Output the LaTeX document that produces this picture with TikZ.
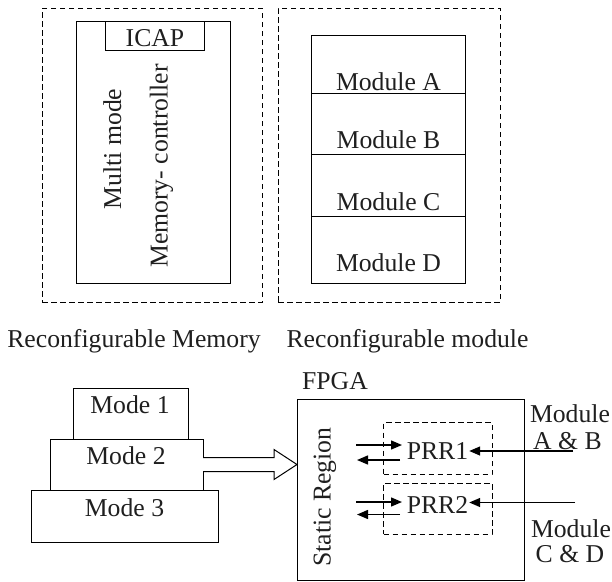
\documentclass[tikz,border=0pt]{standalone}
\usepackage{fontspec}
\setmainfont{Liberation Serif}
\usetikzlibrary{arrows.meta,calc,fit}
\begin{document}
\begin{tikzpicture}[x=1pt,y=-1pt,
  every node/.style={inner sep=0pt, outer sep=0pt},
  box/.style={draw, line width=1pt, inner sep=0pt},
  dbox/.style={draw, line width=1pt, inner sep=0pt, dash pattern=on 5.5pt off 3.5pt},
  txt/.style={font=\fontsize{25.7}{30}\selectfont, anchor=base, text=black!88, inner sep=1pt},
  arr/.style={line width=1.4pt, -{Triangle[length=11pt,width=9pt]}},
  hollow/.style={line width=1pt, fill=white},
]
\useasboundingbox (0,0) rectangle (612,581);

% ---------- top: reconfigurable memory ----------
\node[dbox, fit={(42,8) (262,302)}] (memreg) {};
\node[box, fit={(76,21) (230.5,283)}] (ctrl) {};
\node[box, fit={(105,21) (204,50)}] (icap) {};
\node[txt] (icapt) at (155,46) {ICAP};
\node[txt, rotate=90] (multi) at (121,149) {Multi mode};
\node[txt, rotate=90] (memctl) at (167.5,166) {Memory- controller};

% ---------- top: reconfigurable module ----------
\node[dbox, fit={(278,8) (500,302)}] (modreg) {};
\node[box, fit={(311,35) (465.5,93)}] (mA) {};
\node[box, fit={(311,93) (465.5,154)}] (mB) {};
\node[box, fit={(311,154) (465.5,216)}] (mC) {};
\node[box, fit={(311,216) (465.5,283)}] (mD) {};
\node[txt] (mAt) at (388.5,90) {Module A};
\node[txt] (mBt) at (388.5,148) {Module B};
\node[txt] (mCt) at (388.5,210) {Module C};
\node[txt] (mDt) at (388.5,271) {Module D};

% ---------- captions ----------
\node[txt] (capmem) at (134,347) {Reconfigurable Memory};
\node[txt] (capmod) at (407.5,347) {Reconfigurable module};

% ---------- modes ----------
\node[box, fit={(73,388) (188,439)}] (mode1) {};
\node[box, fit={(50,439) (203,490)}] (mode2) {};
\node[box, fit={(31,490) (218,542)}] (mode3) {};
\node[txt] (mode1t) at (130,413) {Mode 1};
\node[txt] (mode2t) at (126,464) {Mode 2};
\node[txt] (mode3t) at (124.5,516) {Mode 3};

% ---------- FPGA ----------
\node[box, fit={(297,399) (524,580)}] (fpga) {};
\node[txt] (fpgat) at (335,389) {FPGA};
\node[txt, rotate=90] (static) at (330.5,497) {Static Region};
\node[dbox, fit={(383.5,422.5) (492,474.5)}] (prr1) {};
\node[dbox, fit={(383.5,483) (492,534)}] (prr2) {};
\node[txt] (prr1t) at (437.5,459) {PRR1};
\node[txt] (prr2t) at (437.5,513) {PRR2};
\node[txt] (modAB1) at (570,422) {Module};
\node[txt] (modAB2) at (567.5,449) {A \& B};
\node[txt] (modCD1) at (571,537) {Module};
\node[txt] (modCD2) at (570,562) {C \& D};

% ---------- hollow arrow from modes to FPGA ----------
\draw[hollow] ($(mode2.east)+(0,-7)$) -- ++(71,0) -- ++(0,-8)
  -- (fpga.west |- mode2.east) -- ($(mode2.east)+(71,15)$) -- ++(0,-8)
  -- ($(mode2.east)+(0,7)$);

% ---------- arrows static region <-> PRRs ----------
\coordinate (p1ra) at (356,445);
\coordinate (p1rb) at (402,445);
\coordinate (p1la) at (400,460);
\coordinate (p1lb) at (357,460);
\coordinate (p2ra) at (356,502);
\coordinate (p2rb) at (402,502);
\coordinate (p2la) at (400,514.5);
\coordinate (p2lb) at (357,514.5);
\draw[arr] (p1ra) -- (p1rb);
\draw[arr] (p1la) -- (p1lb);
\draw[arr] (p2ra) -- (p2rb);
\draw[arr] (p2la) -- (p2lb);

% ---------- incoming module arrows ----------
\coordinate (inAB) at (573,451);
\coordinate (inCD) at (575,502.5);
\draw[arr] (inAB) -- (inAB -| prr1t.east);
\draw[arr] (inCD) -- (inCD -| prr2t.east);
\end{tikzpicture}
\end{document}
